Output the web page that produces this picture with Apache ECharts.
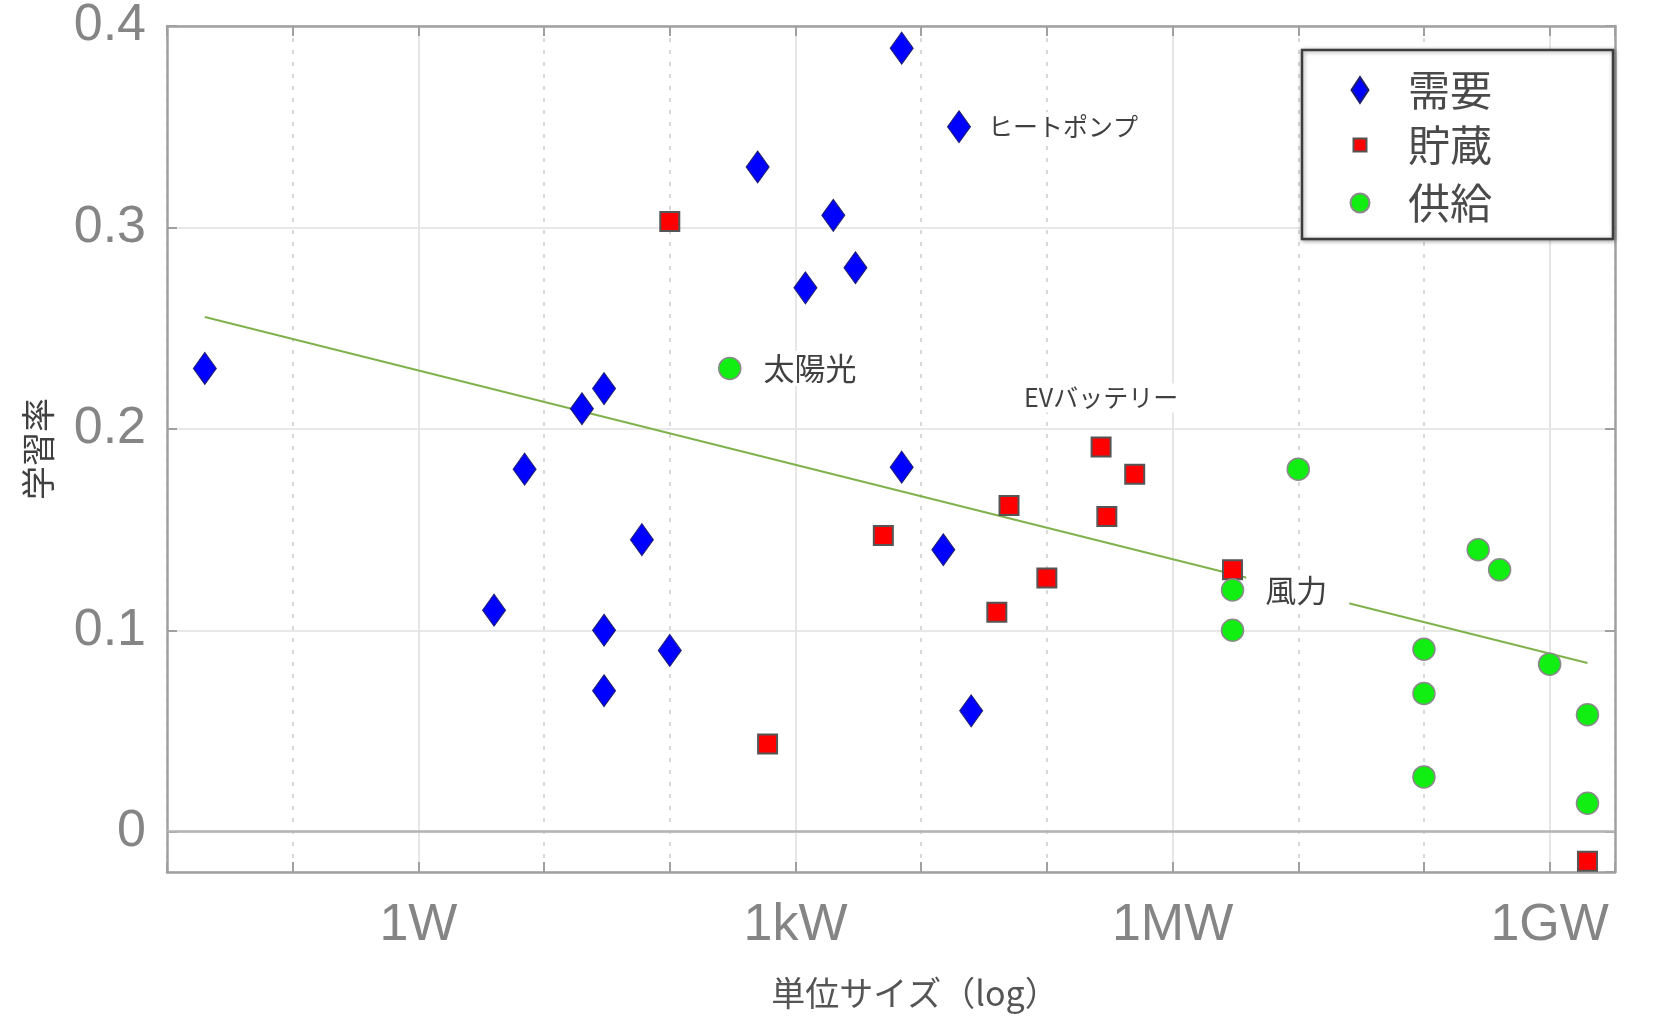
<!DOCTYPE html>
<html>
<head>
<meta charset="utf-8" />
<title>学習率と単位サイズ</title>
<script src="https://cdn.jsdelivr.net/npm/echarts@6/dist/echarts.min.js"></script>
<style>
html, body { margin: 0; padding: 0; background: #fff; }
#main { width: 1655px; height: 1019px; }
</style>
</head>
<body>
<div id="main"></div>
<script type="text/javascript">
// 需要（W, 学習率）
var demandSize = [0.02, 4, 7, 20, 30, 60, 30, 30, 100, 500, 1200, 2000, 3000, 7000, 7000, 15000, 20000, 25000];
var demandRate = [0.23, 0.11, 0.18, 0.21, 0.22, 0.145, 0.10, 0.07, 0.09, 0.33, 0.27, 0.306, 0.28, 0.389, 0.181, 0.14, 0.35, 0.06];
// 貯蔵
var storageSize = [100, 600, 5000, 40000, 50000, 100000, 270000, 300000, 500000, 3e6, 2e9];
var storageRate = [0.303, 0.0435, 0.147, 0.109, 0.162, 0.126, 0.191, 0.1565, 0.1775, 0.130, -0.0147];
// 供給
var supplySize = [300, 3e6, 3e6, 1e7, 1e8, 1e8, 1e8, 2.7e8, 4e8, 1e9, 2e9, 2e9];
var supplyRate = [0.23, 0.12, 0.10, 0.18, 0.0906, 0.0686, 0.0272, 0.14, 0.13, 0.0832, 0.0581, 0.0141];
// 回帰線
var fitSize = [0.02, 2e9];
var fitRate = [0.2555, 0.0838];
// x軸ラベル（10の指数）
var xTickExp = [0, 3, 6, 9];
var xTickText = ['1W', '1kW', '1MW', '1GW'];

var jp = '"Noto Sans CJK JP", sans-serif';

function toPoints(size, rate) {
	return size.map(function (s, i) { return [Math.log10(s), rate[i]]; });
}
//注記ラベル
function note(points, idx, opt) {
	points[idx] = {
		value: points[idx],
		label: Object.assign({
			show: true,
			color: '#404040',
			fontFamily: jp,
			backgroundColor: '#fff'
		}, opt)
	};
}

var demandPts = toPoints(demandSize, demandRate);
var storagePts = toPoints(storageSize, storageRate);
var supplyPts = toPoints(supplySize, supplyRate);
note(demandPts, 16, {formatter: 'ヒートポンプ', position: 'right', distance: 13, fontSize: 25, padding: [2, 4]});
note(storagePts, 6, {formatter: 'EVバッテリー', position: 'top', distance: 24, fontSize: 25, padding: [2, 4]});
note(supplyPts, 0, {formatter: '太陽光', position: 'right', distance: 16, fontSize: 31, padding: [2, 6]});
note(supplyPts, 1, {formatter: '風力', position: 'right', distance: 2, fontSize: 31, padding: [4, 22, 4, 19]});

var xRange = {type: 'value', min: -2, max: 9.52, interval: 1};
var axisGray = '#a0a0a0';

var myChart = echarts.init(document.getElementById('main'));
var option = {
	backgroundColor: '#fff',
	animation: false,
	grid: {left: 167, right: 40, top: 24, bottom: 147},
	xAxis: [
		Object.assign({}, xRange, {
			position: 'bottom',
			name: '単位サイズ（log）',
			nameLocation: 'middle',
			nameGap: 104,
			nameTextStyle: {fontSize: 34, color: '#555', fontFamily: jp, padding: [0, 0, 0, 48]},
			axisLine: {onZero: false, lineStyle: {color: axisGray, width: 2.5}},
			axisTick: {inside: true, length: 10, lineStyle: {color: axisGray, width: 2}},
			axisLabel: {
				margin: 28,
				fontSize: 52,
				color: '#858585',
				fontFamily: 'Liberation Sans',
				formatter: function (v) {
					for (var i = 0; i < xTickExp.length; i++) {
						if (Math.abs(v - xTickExp[i]) < 1e-6) return xTickText[i];
					}
					return '';
				}
			},
			splitLine: {show: true, lineStyle: {color: '#d9d9d9', width: 2, type: [4, 8]}}
		}),
		Object.assign({}, xRange, {
			position: 'top',
			axisLine: {onZero: false, lineStyle: {color: axisGray, width: 2.5}},
			axisTick: {inside: true, length: 10, lineStyle: {color: axisGray, width: 2}},
			axisLabel: {show: false},
			//1000倍ごとの実線
			splitLine: {show: true, lineStyle: {color: ['rgba(0,0,0,0)', 'rgba(0,0,0,0)', '#e6e6e6'], width: 2}}
		})
	],
	yAxis: [{
		type: 'value',
		min: -0.02,
		max: 0.4,
		splitNumber: 5,
		name: '学習率',
		nameLocation: 'middle',
		nameGap: 112,
		nameTextStyle: {fontSize: 34, color: '#404040', fontFamily: jp},
		axisLine: {show: true, onZero: false, lineStyle: {color: axisGray, width: 2.5}},
		axisTick: {show: true, inside: true, length: 10, lineStyle: {color: axisGray, width: 2}},
		axisLabel: {showMinLabel: false, margin: 21, fontSize: 52, color: '#858585', fontFamily: 'Liberation Sans'},
		splitLine: {show: true, lineStyle: {color: '#e8e8e8', width: 2}}
	}, {
		type: 'value',
		min: -0.02,
		max: 0.4,
		splitNumber: 5,
		position: 'right',
		axisLine: {show: true, onZero: false, lineStyle: {color: axisGray, width: 2.5}},
		axisTick: {show: true, inside: true, length: 10, lineStyle: {color: axisGray, width: 2}},
		axisLabel: {show: false},
		splitLine: {show: false}
	}],
	legend: [{
		data: [{name: '需要', icon: 'diamond'}],
		left: 1350.5, top: 69, itemWidth: 17, itemHeight: 26, padding: 0, selectedMode: false, z: 10,
		textStyle: {fontSize: 42, color: '#4a4a4a', fontFamily: jp, padding: [0, 0, 0, 34.5]}
	}, {
		data: [{name: '貯蔵', icon: 'rect'}],
		left: 1352.5, top: 124, itemWidth: 13, itemHeight: 13, padding: 0, selectedMode: false, z: 10,
		textStyle: {fontSize: 42, color: '#4a4a4a', fontFamily: jp, padding: [0, 0, 0, 36.5]}
	}, {
		data: [{name: '供給', icon: 'circle'}],
		left: 1349.5, top: 182, itemWidth: 19, itemHeight: 19, padding: 0, selectedMode: false, z: 10,
		textStyle: {fontSize: 42, color: '#4a4a4a', fontFamily: jp, padding: [0, 0, 0, 33.5]}
	}],
	graphic: [{
		type: 'rect',
		z: 5,
		shape: {x: 1302, y: 50, width: 311, height: 189},
		style: {fill: '#fff', stroke: '#3d3d3d', lineWidth: 2.5, shadowBlur: 4, shadowColor: 'rgba(0,0,0,0.35)', shadowOffsetX: 1, shadowOffsetY: 1}
	}],
	series: [{
		name: 'fit',
		type: 'line',
		data: toPoints(fitSize, fitRate),
		symbol: 'none',
		silent: true,
		z: 1,
		lineStyle: {color: '#80b24c', width: 2},
		markLine: {
			silent: true,
			symbol: 'none',
			label: {show: false},
			lineStyle: {color: '#b3b3b3', width: 2.5, type: 'solid'},
			data: [{yAxis: 0}]
		}
	}, {
		name: '需要',
		type: 'scatter',
		symbol: 'diamond',
		symbolSize: [23, 32],
		z: 3,
		itemStyle: {color: '#0000ff', borderColor: '#20206a', borderWidth: 1, opacity: 1},
		data: demandPts
	}, {
		name: '貯蔵',
		type: 'scatter',
		symbol: 'rect',
		symbolSize: 19,
		z: 3,
		itemStyle: {color: '#ff0000', borderColor: '#555', borderWidth: 2, opacity: 1},
		data: storagePts
	}, {
		name: '供給',
		type: 'scatter',
		symbol: 'circle',
		symbolSize: 22,
		z: 3,
		itemStyle: {color: '#11ee11', borderColor: '#8a8a8a', borderWidth: 1.5, opacity: 1},
		data: supplyPts
	}]
};
myChart.setOption(option);
</script>
</body>
</html>
